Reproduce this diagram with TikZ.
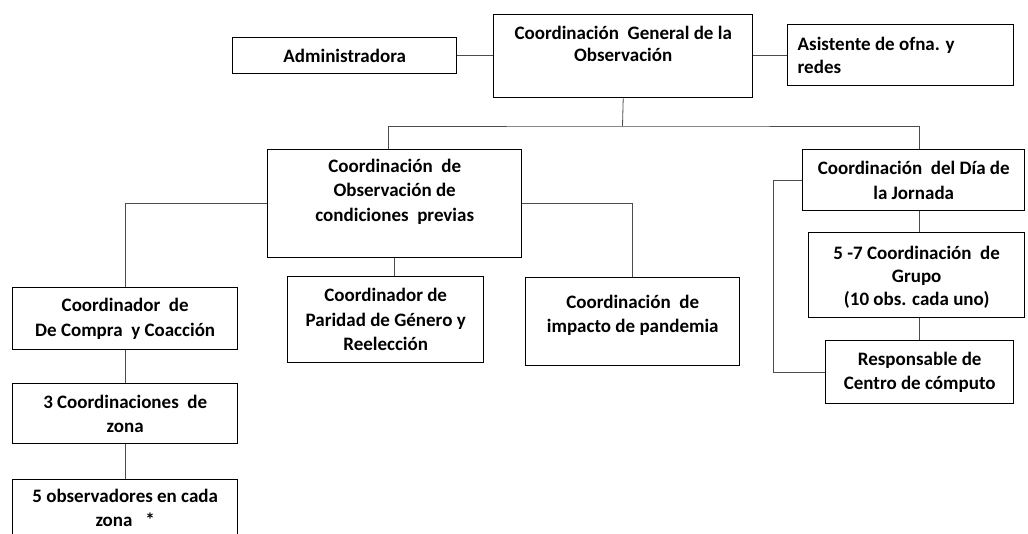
\documentclass[tikz,border=0pt]{standalone}
\usepackage{fontspec}
\setmainfont{Carlito}
\newcommand{\orgtext}[4]{\parbox[c][#2][#3]{#1}{\centering #4}}

\begin{document}
\begin{tikzpicture}[x=1pt,y=-1pt,
  orgbox/.style={draw,line width=1.4pt,inner sep=0pt,anchor=north west,font=\bfseries\fontsize{19}{24.5}\selectfont},
  link/.style={draw=black!70,line width=0.8pt}]
  \clip (0,0) rectangle (1028,533);
  \fill[white] (0,0) rectangle (1028,533);
  % primer nivel
  \node[orgbox] (general) at (493,14) {\orgtext{259pt}{83pt}{t}{\vspace*{11pt}Coordinación\ \ General de la\\[-2pt]Observación}};
  \node[orgbox] (admin) at (232,37) {\orgtext{224pt}{36pt}{c}{Administradora}};
  \node[orgbox] (asist) at (787,24) {\orgtext{226pt}{61pt}{c}{\raggedright\leftskip=10pt Asistente de ofna. y\\[-2pt]redes}};
  % coordinaciones
  \node[orgbox] (previas) at (267,149) {\orgtext{254pt}{108pt}{t}{\vspace*{9pt}Coordinación\ \ de\\Observación de\\condiciones\ \ previas}};
  \node[orgbox] (compra) at (12,287) {\orgtext{225pt}{62pt}{c}{Coordinador\ \ de\\De Compra\ \ y Coacción}};
  \node[orgbox] (paridad) at (287,276) {\orgtext{196pt}{86pt}{c}{Coordinador de\\Paridad de Género y\\Reelección}};
  \node[orgbox] (pandemia) at (525,277) {\orgtext{214pt}{88pt}{t}{\vspace*{17pt}Coordinación\ \ de\\impacto de pandemia}};
  \node[orgbox] (zona) at (12,383) {\orgtext{225pt}{60pt}{c}{3 Coordinaciones\ \ de\\zona}};
  \node[orgbox] (obszona) at (12,479) {\orgtext{225pt}{70pt}{t}{\vspace*{9pt}5 observadores en cada\\zona\ \ \ *}};
  % jornada
  \node[orgbox] (jornada) at (802,149) {\orgtext{222pt}{61pt}{c}{Coordinación\ \ del Día de\\la Jornada}};
  \node[orgbox] (grupo) at (808,232) {\orgtext{216pt}{85pt}{t}{\vspace*{13pt}5 -7 Coordinación\ \ de\\[-1.5pt]Grupo\\[-1.5pt](10 obs. cada uno)}};
  \node[orgbox] (computo) at (825,340) {\orgtext{188pt}{63pt}{c}{Responsable de\\Centro de cómputo}};
  % conectores
  \coordinate (bar) at (622.5,126);
  \draw[link] (admin.east) -- (admin.east -| general.west);
  \draw[link] (general.east |- asist.west) -- (asist.west);
  \draw[link] (general.south) -- (bar);
  \draw[link] ([xshift=-6pt]previas.north) |- (bar) -| (jornada.north -| computo.north);
  \draw[link] (previas.west) -| (compra.north);
  \draw[link] (previas.east) -| (pandemia.north);
  \draw[link] (previas.south) -- (previas.south |- paridad.north);
  \draw[link] (compra.south) -- (zona.north);
  \draw[link] (zona.south) -- (obszona.north);
  \draw[link] (jornada.south -| computo.north) -- (grupo.north -| computo.north);
  \draw[link] (grupo.south -| computo.north) -- (computo.north);
  \draw[link] (jornada.west) -- ++(-29,0) |- (computo.west);
\end{tikzpicture}
\end{document}
